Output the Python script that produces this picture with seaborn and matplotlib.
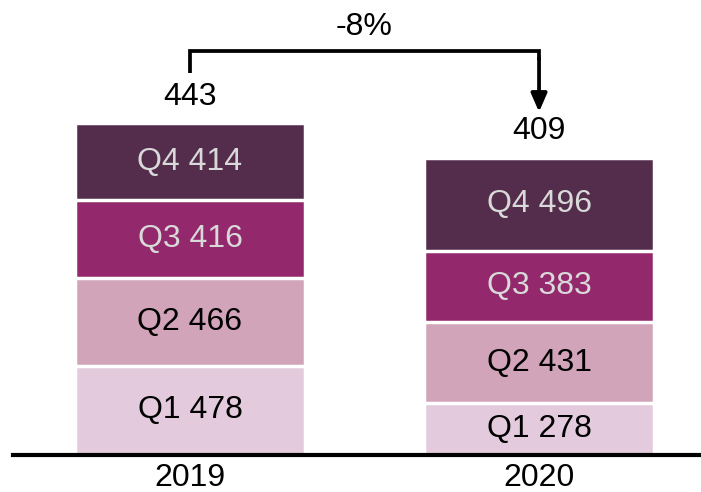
import pandas as pd
import seaborn as sns
import matplotlib.pyplot as plt

# chart data
years = ['2019', '2020']
quarters = ['Q1', 'Q2', 'Q3', 'Q4']
q1 = [478, 278]
q2 = [466, 431]
q3 = [416, 383]
q4 = [414, 496]
totals = [443, 409]

colors = {'Q1': '#E3CBDD', 'Q2': '#D2A4B9', 'Q3': '#93296C', 'Q4': '#532D4B'}
text_colors = {'Q1': 'black', 'Q2': 'black', 'Q3': '#D9D9D9', 'Q4': '#D9D9D9'}

df = pd.DataFrame({'year': years, 'Q1': q1, 'Q2': q2, 'Q3': q3, 'Q4': q4})
cum = df[quarters].cumsum(axis=1)

sns.set_style('white')
plt.rcParams['font.family'] = ['Liberation Sans', 'DejaVu Sans']
plt.rcParams['text.color'] = 'black'
plt.rcParams['xtick.color'] = 'black'

fig = plt.figure(figsize=(7.01, 4.92), dpi=100)
ax = fig.add_axes([13 / 701, 37 / 492, 688 / 701, 455 / 492])

# stacked bars: draw cumulative totals from the top layer down
for q in reversed(quarters):
    sns.barplot(x=df['year'], y=cum[q], color=colors[q], width=0.66,
                edgecolor='white', linewidth=2.5, errorbar=None,
                saturation=1, ax=ax)

# labels inside the segments
for i in range(len(years)):
    bottom = 0
    for q in quarters:
        v = df.loc[i, q]
        ax.text(i, bottom + v / 2, f'{q} {v}', ha='center', va='center',
                fontsize=23, color=text_colors[q])
        bottom += v

# totals above the stacks
tops = cum['Q4'].tolist()
for i, t in enumerate(totals):
    ax.annotate(str(t), xy=(i, tops[i]), xytext=(0, 19), textcoords='offset points',
                ha='center', va='center', fontsize=23)

# change bracket
pct = round((totals[1] / totals[0] - 1) * 100)
y_top = max(tops) + 385
y_left = tops[0] + 267
y_tip = tops[1] + 245
ax.plot([0, 0, 1, 1], [y_left, y_top, y_top, y_top - 50], color='black', lw=2.7,
        solid_joinstyle='miter', solid_capstyle='butt')
ax.annotate('', xy=(1, y_tip), xytext=(1, y_top - 40),
            arrowprops=dict(arrowstyle='-|>,head_length=0.55,head_width=0.24',
                            color='black', lw=2.7, mutation_scale=20,
                            shrinkA=0, shrinkB=0))
ax.text(0.5, y_top + 130, f'{pct}%', ha='center', va='center', fontsize=23)

ax.set_xlim(-0.507, 1.464)
ax.set_ylim(0, 2431)
ax.set_xlabel('')
ax.set_ylabel('')
ax.set_yticks([])
ax.tick_params(axis='x', length=0, pad=6, labelsize=23)
for s in ['top', 'left', 'right']:
    ax.spines[s].set_visible(False)
ax.spines['bottom'].set_linewidth(3)
ax.spines['bottom'].set_color('black')
ax.spines['bottom'].set_zorder(5)

fig.savefig('out.png', dpi=100)
